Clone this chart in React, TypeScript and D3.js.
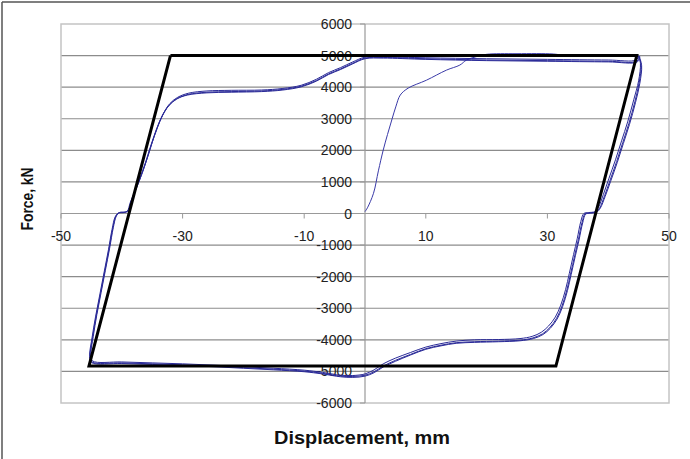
import React from "react"
import * as d3 from "d3"

const W = 690
const H = 459
const plot = { left: 61, right: 669, top: 24, bottom: 403 }

// axis ticks
const xTicks = [-50, -30, -10, 10, 30, 50]
const yTicks = [-6000, -5000, -4000, -3000, -2000, -1000, 0, 1000, 2000, 3000, 4000, 5000, 6000]

// bilinear envelope (displacement mm, force kN)
const envelope: [number, number][] = [
  [-32, 5000], [44.7, 5000], [31.4, -4830], [-45.4, -4830], [-32, 5000],
]

// first loading from zero
const initialLoading: [number, number][] = [
  [0, 60], [0.4, 180], [1.4, 640], [2.2, 1350], [3.0, 2010], [3.7, 2500], [4.4, 2960],
  [5.1, 3400], [5.8, 3750], [7.1, 3970], [10.1, 4220], [13.4, 4540], [15.6, 4700],
  [16.7, 4860], [18.2, 4960], [20, 5040], [25, 5060], [31, 5050], [33, 5000],
  [40, 4990], [45, 4990],
]

// cycle 1
const cycle1: [number, number][] = [
  [45.0, 4990], [45.3, 4750], [45.0, 4200], [44.2, 3600], [43.2, 2900], [42.2, 2300],
  [41.2, 1700], [40.1, 1100], [39.2, 600], [38.4, 200], [37.8, 60], [36.8, 30], [36.0, 0],
  [35.5, -250], [34.9, -800], [34.3, -1300], [33.6, -1900], [33.0, -2400], [32.2, -2900],
  [31.3, -3280], [30.2, -3560], [29.0, -3760], [27.5, -3890], [25.5, -3960], [22.0, -3990],
  [18.0, -4000], [15.0, -4040], [12.5, -4120], [10.0, -4230], [7.5, -4400], [5.0, -4580],
  [3.0, -4760], [1.5, -4950], [0.0, -5080], [-2.0, -5130], [-4.0, -5120], [-7.0, -5030],
  [-10.0, -4960], [-15.0, -4900], [-20.0, -4850], [-25.0, -4800], [-30.0, -4760],
  [-35.0, -4730], [-40.0, -4700], [-44.8, -4670],
  [-45.1, -4500], [-44.7, -3900], [-44.1, -3200], [-43.4, -2500], [-42.7, -1800],
  [-42.0, -1100], [-41.4, -450], [-40.9, -80], [-40.4, 30], [-39.4, 50], [-38.9, 100],
  [-38.4, 400], [-37.6, 800], [-36.8, 1200], [-35.9, 1700], [-35.0, 2250], [-34.1, 2750],
  [-33.2, 3150], [-32.1, 3480], [-30.8, 3680], [-29.0, 3810], [-26.0, 3880], [-22.0, 3900],
  [-17.0, 3910], [-13.5, 3960], [-10.5, 4060], [-8.0, 4250], [-6.0, 4460], [-4.0, 4620],
  [-2.0, 4800], [0.0, 4950], [3.0, 4960], [10.0, 4930], [20.0, 4900], [30.0, 4880],
  [40.0, 4860], [44.6, 4860], [45.0, 4990],
]

// cycle 2
const cycle2: [number, number][] = [
  [45.0, 4990], [45.4, 4700], [45.1, 4150], [44.4, 3550], [43.4, 2850], [42.4, 2250],
  [41.4, 1650], [40.3, 1050], [39.4, 560], [38.6, 180], [38.0, 50], [37.0, 20], [36.2, -10],
  [35.7, -280], [35.1, -820], [34.5, -1320], [33.8, -1920], [33.2, -2420], [32.4, -2930],
  [31.5, -3320], [30.4, -3610], [29.2, -3810], [27.6, -3940], [25.5, -4010], [22.0, -4040],
  [18.0, -4060], [15.0, -4090], [12.5, -4170], [10.0, -4280], [7.5, -4460], [5.0, -4650],
  [3.0, -4830], [1.5, -5010], [0.0, -5120], [-2.0, -5160], [-4.0, -5150], [-7.0, -5060],
  [-10.0, -4990], [-15.0, -4930], [-20.0, -4880], [-25.0, -4830], [-30.0, -4790],
  [-35.0, -4760], [-40.0, -4730], [-44.9, -4700],
  [-45.2, -4520], [-44.8, -3920], [-44.2, -3230], [-43.5, -2530], [-42.8, -1830],
  [-42.1, -1130], [-41.5, -480], [-41.0, -100], [-40.5, 20], [-39.5, 40], [-39.0, 80],
  [-38.5, 370], [-37.7, 760], [-36.9, 1150], [-36.0, 1640], [-35.1, 2190], [-34.2, 2690],
  [-33.3, 3100], [-32.2, 3430], [-30.9, 3640], [-29.1, 3770], [-26.0, 3840], [-22.0, 3860],
  [-17.0, 3880], [-13.5, 3930], [-10.5, 4030], [-8.0, 4210], [-6.0, 4420], [-4.0, 4580],
  [-2.0, 4760], [0.0, 4920], [3.0, 4940], [10.0, 4900], [20.0, 4860], [30.0, 4840],
  [40.0, 4820], [44.7, 4820], [45.1, 4980],
]

// cycle 3
const cycle3: [number, number][] = [
  [45.1, 4980], [45.5, 4680], [45.2, 4120], [44.5, 3520], [43.5, 2820], [42.5, 2220],
  [41.5, 1620], [40.4, 1020], [39.5, 540], [38.7, 170], [38.1, 40], [37.1, 10], [36.3, -20],
  [35.8, -300], [35.2, -840], [34.6, -1340], [33.9, -1940], [33.3, -2440], [32.5, -2950],
  [31.6, -3340], [30.5, -3630], [29.3, -3830], [27.7, -3960], [25.5, -4030], [22.0, -4060],
  [18.0, -4080], [15.0, -4110], [12.5, -4190], [10.0, -4300], [7.5, -4480], [5.0, -4680],
  [3.0, -4860], [1.5, -5040], [0.0, -5150], [-2.0, -5190], [-4.0, -5170], [-7.0, -5080],
  [-10.0, -5010], [-15.0, -4950], [-20.0, -4900], [-25.0, -4850], [-30.0, -4810],
  [-35.0, -4780], [-40.0, -4750], [-45.0, -4720],
  [-45.3, -4540], [-44.9, -3940], [-44.3, -3250], [-43.6, -2550], [-42.9, -1850],
  [-42.2, -1150], [-41.6, -500], [-41.1, -110], [-40.6, 10], [-39.6, 30], [-39.1, 70],
  [-38.6, 350], [-37.8, 740], [-37.0, 1130], [-36.1, 1620], [-35.2, 2170], [-34.3, 2670],
  [-33.4, 3080], [-32.3, 3410], [-31.0, 3620], [-29.2, 3750], [-26.0, 3820], [-22.0, 3840],
  [-17.0, 3860], [-13.5, 3910], [-10.5, 4010], [-8.0, 4190], [-6.0, 4400], [-4.0, 4560],
  [-2.0, 4740], [0.0, 4900], [3.0, 4920], [10.0, 4880], [20.0, 4840], [30.0, 4820],
  [40.0, 4800], [44.8, 4800], [45.2, 4970],
]

const cycles = [cycle1, cycle2, cycle3]

const App = () => {
  const x = d3.scaleLinear().domain([-50, 50]).range([plot.left, plot.right])
  const y = d3.scaleLinear().domain([-6000, 6000]).range([plot.bottom, plot.top])

  const smooth = d3
    .line<[number, number]>()
    .x(d => x(d[0]))
    .y(d => y(d[1]))
    .curve(d3.curveCatmullRom.alpha(0.5))

  const straight = d3
    .line<[number, number]>()
    .x(d => x(d[0]))
    .y(d => y(d[1]))

  const font = "Arial, 'Liberation Sans', sans-serif"

  return (
    <svg
      width={W}
      height={H}
      style={{ position: "absolute", left: 0, top: 0, background: "#fff" }}
      fontFamily={font}
    >
      {/* outer frame (top and left edges only) */}
      <line x1={2} y1={2} x2={W} y2={2} stroke="#555" strokeWidth={1.5} />
      <line x1={2} y1={2} x2={2} y2={H} stroke="#555" strokeWidth={1.5} />

      {/* horizontal gridlines */}
      {yTicks.map(t =>
        t === 0 || Math.abs(t) === 6000 ? null : (
          <line
            key={"g" + t}
            x1={plot.left}
            x2={plot.right}
            y1={y(t)}
            y2={y(t)}
            stroke="#8c8c8c"
            strokeWidth={1.2}
          />
        )
      )}

      {/* plot area border */}
      <rect
        x={plot.left}
        y={plot.top}
        width={plot.right - plot.left}
        height={plot.bottom - plot.top}
        fill="none"
        stroke="#c4c4c4"
        strokeWidth={1.5}
      />

      {/* axes through the origin */}
      <line x1={plot.left} x2={plot.right} y1={y(0)} y2={y(0)} stroke="#999" strokeWidth={1.2} />
      <line x1={x(0)} x2={x(0)} y1={plot.top} y2={plot.bottom} stroke="#999" strokeWidth={1.2} />

      {/* x ticks and labels */}
      {xTicks.map(t => (
        <g key={"x" + t}>
          <line x1={x(t)} x2={x(t)} y1={y(0)} y2={y(0) + 5} stroke="#999" strokeWidth={1} />
          <text x={x(t)} y={y(0) + 27} textAnchor="middle" fontSize={14} fill="#222">
            {t}
          </text>
        </g>
      ))}

      {/* y ticks and labels */}
      {yTicks.map(t => (
        <g key={"y" + t}>
          <line x1={x(0) - 5} x2={x(0)} y1={y(t)} y2={y(t)} stroke="#999" strokeWidth={1} />
          <text x={x(0) - 13} y={y(t) + 5} textAnchor="end" fontSize={14} fill="#222">
            {t}
          </text>
        </g>
      ))}

      {/* hysteresis curves */}
      <path d={smooth(initialLoading) ?? ""} fill="none" stroke="#3a3aa8" strokeWidth={1} />
      {cycles.map((c, i) => (
        <path key={"c" + i} d={smooth(c) ?? ""} fill="none" stroke="#2a2a98" strokeWidth={1} />
      ))}

      {/* bilinear envelope */}
      <path
        d={straight(envelope) ?? ""}
        fill="none"
        stroke="#000"
        strokeWidth={3}
        strokeLinejoin="miter"
      />

      {/* axis titles */}
      <text
        x={362}
        y={444}
        textAnchor="middle"
        fontSize={18}
        fontWeight="bold"
        fill="#111"
        textLength={176}
        lengthAdjust="spacingAndGlyphs"
      >
        Displacement, mm
      </text>
      <text
        transform="translate(33,199) rotate(-90)"
        textAnchor="middle"
        fontSize={17}
        fontWeight="bold"
        fill="#111"
        textLength={63}
        lengthAdjust="spacingAndGlyphs"
      >
        Force, kN
      </text>
    </svg>
  )
}

export default App
